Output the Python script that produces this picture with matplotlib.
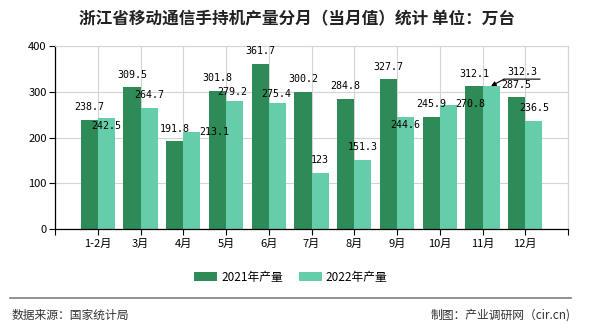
import matplotlib.pyplot as plt
from matplotlib.transforms import offset_copy
import numpy as np

plt.rcParams['font.family'] = ['Noto Sans CJK SC', 'DejaVu Sans']

months = ['1-2月', '3月', '4月', '5月', '6月', '7月', '8月', '9月', '10月', '11月', '12月']
v2021 = [238.7, 309.5, 191.8, 301.8, 361.7, 300.2, 284.8, 327.7, 245.9, 312.1, 287.5]
v2022 = [242.5, 264.7, 213.1, 279.2, 275.4, 123, 151.3, 244.6, 270.8, 312.3, 236.5]
series_names = ['2021年产量', '2022年产量']

# label nudges in pixels (dx, dy from the bar top); None -> arrow label
light_off = [(0, -8), (0, 13), (22, 0), (-2, 9), (-1.5, 9), (0, 12.5),
             (0, 12.5), (0, -8), (22, 1), None, (0, 12.5)]

c_dark = '#2e8b57'
c_light = '#66cdaa'
grid_c = '#d4d4d4'

fig = plt.figure(figsize=(5.9, 3.3), dpi=100)
ax = fig.add_axes([55/590, 1-229/330, (568-55)/590, (229-46)/330])

x = np.arange(len(months))
w = 0.4
b1 = ax.bar(x - w/2, v2021, w, color=c_dark, label=series_names[0], zorder=2)
b2 = ax.bar(x + w/2, v2022, w, color=c_light, label=series_names[1], zorder=2)

ax.set_xlim(-1, len(months))
ax.set_ylim(0, 400)
ax.set_yticks([0, 100, 200, 300, 400])
ax.set_xticks(np.arange(-1, len(months) + 1))
ax.set_xticklabels([''] + months + [''])
ax.tick_params(axis='both', labelsize=8, length=4, width=0.8, color='black', pad=2)
ax.tick_params(axis='x', pad=3)
ax.grid(True, color=grid_c, lw=0.8, zorder=0)
ax.set_axisbelow(True)
for s in ['top', 'right']:
    ax.spines[s].set_color(grid_c)
for s in ['left', 'bottom']:
    ax.spines[s].set_color('black')
    ax.spines[s].set_linewidth(0.9)

lab_font = dict(family='DejaVu Sans Mono', fontsize=7.2, color='black',
                ha='center', va='center', zorder=5)
for i, v in enumerate(v2021):
    ax.annotate(f'{v:g}', (x[i] - w/2, v), xytext=(0, 12.5),
                textcoords='offset pixels', **lab_font)
for i, v in enumerate(v2022):
    off = light_off[i]
    if off is None:
        ax.annotate(f'{v:g}', (x[i] + w/2, v), xytext=(31, 14),
                    textcoords='offset pixels', **lab_font)
        ax.annotate('', (x[i] + w/2, v), xytext=(13, 7), textcoords='offset pixels',
                    arrowprops=dict(arrowstyle='-|>', color='black', lw=0.8,
                                    shrinkA=0, shrinkB=0, mutation_scale=7))
        tr = offset_copy(ax.transData, fig=fig, x=13, y=7, units='dots')
        ax.annotate('', (x[i] + w/2, v), xycoords=tr, xytext=(36, 0),
                    textcoords='offset pixels',
                    arrowprops=dict(arrowstyle='-', color='black', lw=0.8,
                                    shrinkA=0, shrinkB=0))
    else:
        ax.annotate(f'{v:g}', (x[i] + w/2, v), xytext=off,
                    textcoords='offset pixels', **lab_font)

fig.text(297/590, 1-19/330, '浙江省移动通信手持机产量分月（当月值）统计 单位：万台',
         ha='center', va='center', fontsize=12, fontweight='bold', color='#222222')

fig.legend(handles=[b1, b2], loc='center', bbox_to_anchor=(291/590, 1-277/330),
           ncol=2, frameon=False, fontsize=8.5, handlelength=1.9, handleheight=0.75,
           handletextpad=0.35, columnspacing=1.4)

fig.add_artist(plt.Line2D([10/590, 571/590], [1-297.5/330, 1-297.5/330],
                          color='#808080', lw=1.2))
fig.text(12/590, 1-315/330, '数据来源：国家统计局', ha='left', va='center',
         fontsize=8.5, color='#333333')
fig.text(571/590, 1-315/330, '制图：产业调研网（cir.cn)', ha='right', va='center',
         fontsize=8.5, color='#333333')

fig.savefig('out.png', dpi=100)
